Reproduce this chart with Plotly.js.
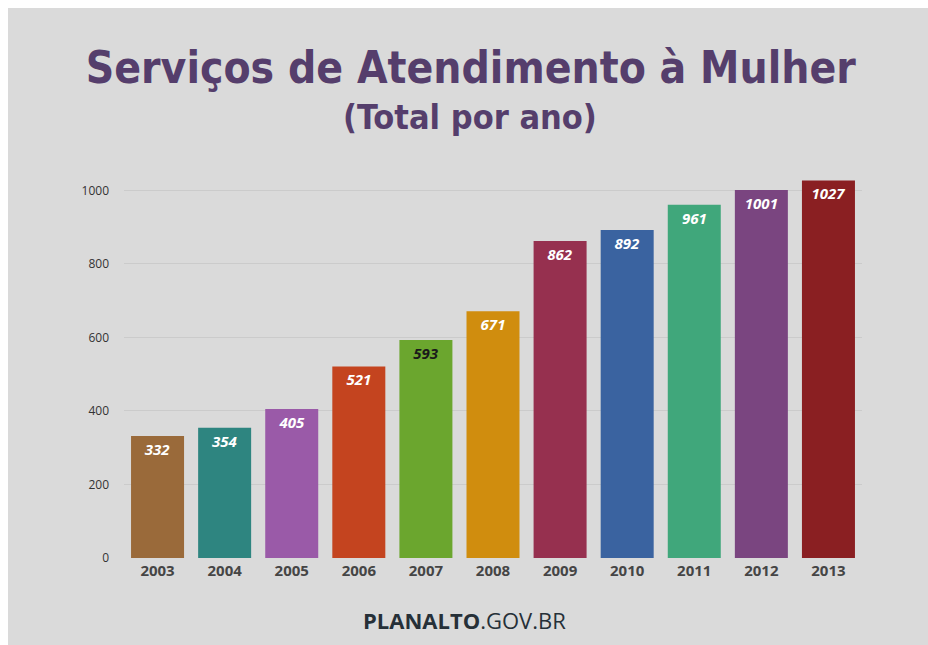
<!DOCTYPE html>
<html>
<head>
<meta charset="utf-8">
<script src="https://cdn.plot.ly/plotly-3.0.1.min.js"></script>
<style>
html,body{margin:0;padding:0;background:#ffffff;width:928px;height:645px;overflow:hidden;}
#chart{position:absolute;left:8px;top:8px;width:920px;height:637px;}
</style>
</head>
<body>
<div id="chart"></div>
<script>
const years = ['2003','2004','2005','2006','2007','2008','2009','2010','2011','2012','2013'];
const totals = [332, 354, 405, 521, 593, 671, 862, 892, 961, 1001, 1027];
const barColors = ['#9a6a3a','#2e8580','#9a5aa8','#c4441f','#6ba62e','#d08d0e','#96304f','#3a63a0','#40a77b','#7a4580','#8a1f22'];
const labelColors = ['#ffffff','#ffffff','#ffffff','#ffffff','#1a1a1a','#ffffff','#ffffff','#ffffff','#ffffff','#ffffff','#ffffff'];
const yTicks = [0, 200, 400, 600, 800, 1000];

const trace = {
  type: 'bar',
  x: years,
  y: totals,
  text: totals.map(String),
  textposition: 'inside',
  insidetextanchor: 'end',
  textangle: 0,
  textfont: {family: 'Open Sans, sans-serif', size: 15, color: labelColors, style: 'italic', weight: 'bold'},
  marker: {color: barColors},
  hoverinfo: 'none'
};

const layout = {
  width: 920, height: 637,
  margin: {l: 116, r: 66, t: 164, b: 87},
  paper_bgcolor: '#dadada',
  plot_bgcolor: '#dadada',
  bargap: 0.21,
  showlegend: false,
  title: {
    text: 'Serviços de Atendimento à Mulher',
    font: {family: 'DejaVu Sans Condensed, Open Sans, sans-serif', size: 44, color: '#553e6c', weight: 'bold'},
    xref: 'container', yref: 'container', x: 0.503, y: 0.906, xanchor: 'center', yanchor: 'middle'
  },
  xaxis: {
    type: 'category',
    tickfont: {family: 'Open Sans, sans-serif', size: 15, color: '#454545', weight: 'bold'},
    showgrid: false, zeroline: false, showline: false,
    ticks: '', ticklen: 0, ticklabelstandoff: 2
  },
  yaxis: {
    range: [0, 1050],
    tickvals: yTicks,
    ticktext: yTicks.map(String),
    tickfont: {family: 'Open Sans, sans-serif', size: 12, color: '#333333'},
    showgrid: true, gridcolor: '#cbcbcb', gridwidth: 1,
    zeroline: false, showline: false,
    ticks: '', ticklabelstandoff: 14
  },
  annotations: [
    {
      text: '(Total por ano)', xref: 'paper', yref: 'paper', x: 0.469, y: 1.143,
      xanchor: 'center', yanchor: 'middle', showarrow: false,
      font: {family: 'DejaVu Sans Condensed, Open Sans, sans-serif', size: 34, color: '#553e6c', weight: 'bold'}
    },
    {
      text: '<b>PLANALTO</b>.GOV.BR', xref: 'paper', yref: 'paper', x: 0.462, y: -0.161,
      xanchor: 'center', yanchor: 'middle', showarrow: false,
      font: {family: 'Open Sans, sans-serif', size: 22, color: '#263038'}
    }
  ]
};

Plotly.newPlot('chart', [trace], layout, {displayModeBar: false, staticPlot: true});
</script>
</body>
</html>
